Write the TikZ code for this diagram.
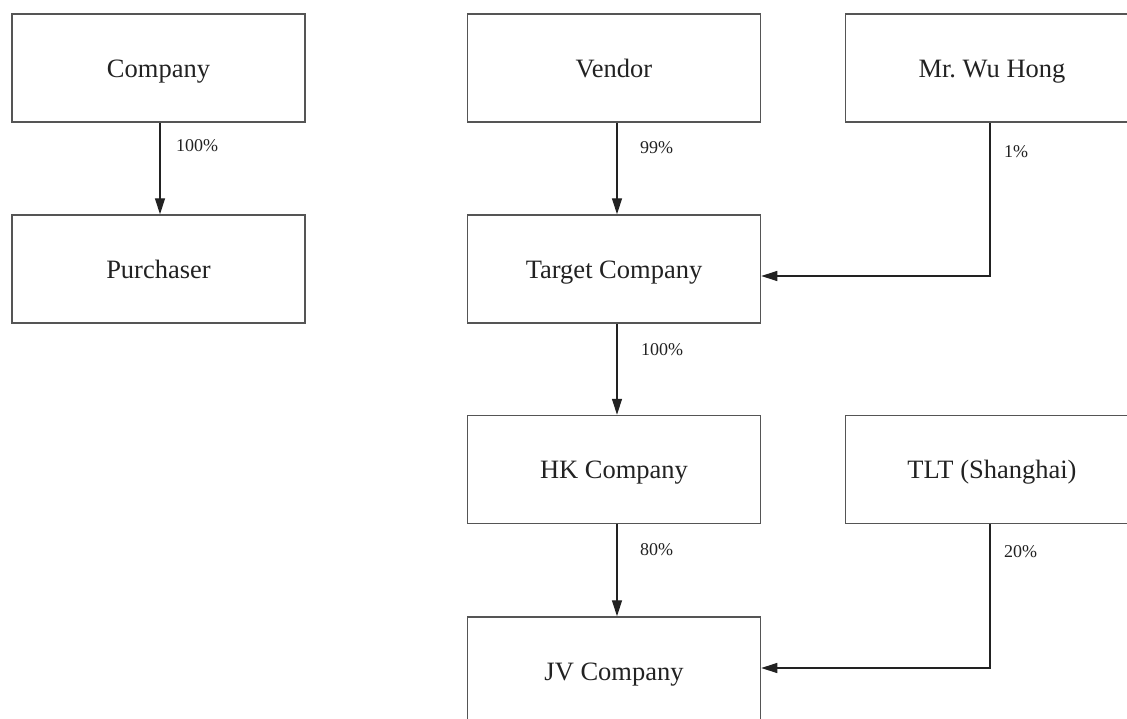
\documentclass[tikz,border=0pt]{standalone}
\usepackage{fontspec}
\setmainfont{Liberation Serif}
\usetikzlibrary{arrows.meta}
\definecolor{boxline}{HTML}{555555}
\definecolor{ink}{HTML}{222222}
\tikzset{
  x=1pt, y=-1pt,
  entity/.style={draw=boxline, line width=1.5pt, minimum width=293pt, minimum height=108pt,
    inner sep=0pt, text height=24pt, text depth=6pt, text=ink,
    font=\fontsize{26.5}{30}\selectfont\frenchspacing},
  arr/.style={draw=ink, line width=1.3pt, -{Triangle[length=16pt,width=10pt]}},
  pct/.style={anchor=west, inner sep=0pt, text=ink, font=\fontsize{18}{22}\selectfont}
}
\begin{document}
\begin{tikzpicture}
\useasboundingbox (0,0) rectangle (1127,718);
\clip (0,0) rectangle (1127,718);
\node[entity] (company) at (158.5,68) {Company};
\node[entity] (purchaser) at (158.5,269) {Purchaser};
\node[entity] (vendor) at (614,68) {Vendor};
\node[entity] (wu) at (992,68) {Mr. Wu Hong};
\node[entity] (target) at (614,269) {Target Company};
\node[entity] (hk) at (614,469.5) {HK Company};
\node[entity] (tlt) at (992,469.5) {TLT (Shanghai)};
\node[entity] (jv) at (614,671) {JV Company};

\coordinate (ca) at (160,0);
\coordinate (ra) at (617,0);
\coordinate (wt) at (990,276);
\coordinate (tj) at (990,668);

\draw[arr] (company.south -| ca) -- (purchaser.north -| ca);
\draw[arr] (vendor.south -| ra) -- (target.north -| ra);
\draw[arr] (target.south -| ra) -- (hk.north -| ra);
\draw[arr] (hk.south -| ra) -- (jv.north -| ra);
\draw[arr] (wu.south -| wt) |- (target.east |- wt);
\draw[arr] (tlt.south -| tj) |- (jv.east |- tj);

\node[pct] (l1) at (176,146) {100\%};
\node[pct] (l2) at (640,148) {99\%};
\node[pct] (l3) at (1004,152) {1\%};
\node[pct] (l4) at (641,350) {100\%};
\node[pct] (l5) at (640,550) {80\%};
\node[pct] (l6) at (1004,552) {20\%};
\end{tikzpicture}
\end{document}
